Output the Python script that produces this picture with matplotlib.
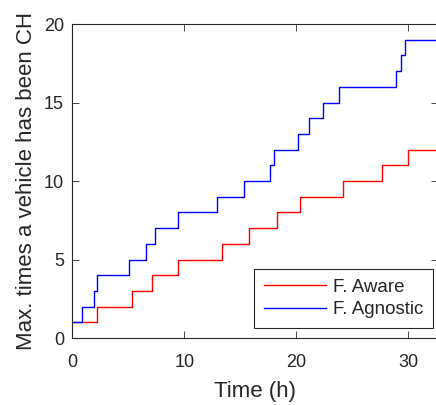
import matplotlib
matplotlib.use('Agg')
import matplotlib.pyplot as plt

plt.rcParams['font.family'] = ['Liberation Sans', 'DejaVu Sans']

# step change times (h) and values after each change
aware_t = [0, 2.23, 5.33, 7.14, 9.47, 13.34, 15.78, 18.3, 20.34, 24.18, 27.67, 29.96, 32.6]
aware_v = [1, 2, 3, 4, 5, 6, 7, 8, 9, 10, 11, 12, 12]

agnostic_t = [0, 0.9, 1.93, 2.17, 5.06, 6.58, 7.38, 9.4, 12.95, 15.33, 17.66, 17.96,
              20.1, 21.17, 22.4, 23.77, 28.86, 29.3, 29.7, 32.6]
agnostic_v = [1, 2, 3, 4, 5, 6, 7, 8, 9, 10, 11, 12, 13, 14, 15, 16, 17, 18, 19, 19]

xticks = [0, 10, 20, 30]
yticks = [0, 5, 10, 15, 20]

dark = (0.15, 0.15, 0.15)

fig = plt.figure(figsize=(4.36, 4.05), dpi=100)
ax = fig.add_axes([0.166, 0.1654, 0.8375, 0.7753])

ax.plot(aware_t, aware_v, drawstyle='steps-post', color='red', lw=1.0, label='F. Aware')
ax.plot(agnostic_t, agnostic_v, drawstyle='steps-post', color='blue', lw=1.0, label='F. Agnostic')

ax.set_xlim(0, 32.6)
ax.set_ylim(0, 20)
ax.set_xticks(xticks)
ax.set_yticks(yticks)
ax.tick_params(direction='in', length=5, width=0.6, top=True, right=True,
               labelsize=13, colors=dark)
ax.tick_params(axis='x', pad=11.5)
ax.tick_params(axis='y', pad=6)
for s in ax.spines.values():
    s.set_color(dark)
    s.set_linewidth(0.8)

ax.set_xlabel('Time (h)', fontsize=16, color=dark, labelpad=7.5)
ax.set_ylabel('Max. times a vehicle has been CH', fontsize=16, color=dark, labelpad=5)

leg = ax.legend(loc='lower right', bbox_to_anchor=(0.987, 0.033), borderaxespad=0,
                fancybox=False, fontsize=13.5, handlelength=3.3, handletextpad=0.4,
                borderpad=0.5, labelspacing=0.3, framealpha=1)
leg.get_frame().set_edgecolor(dark)
leg.get_frame().set_linewidth(0.8)
for t in leg.get_texts():
    t.set_color(dark)

plt.savefig('out.png', dpi=100)
plt.close()
